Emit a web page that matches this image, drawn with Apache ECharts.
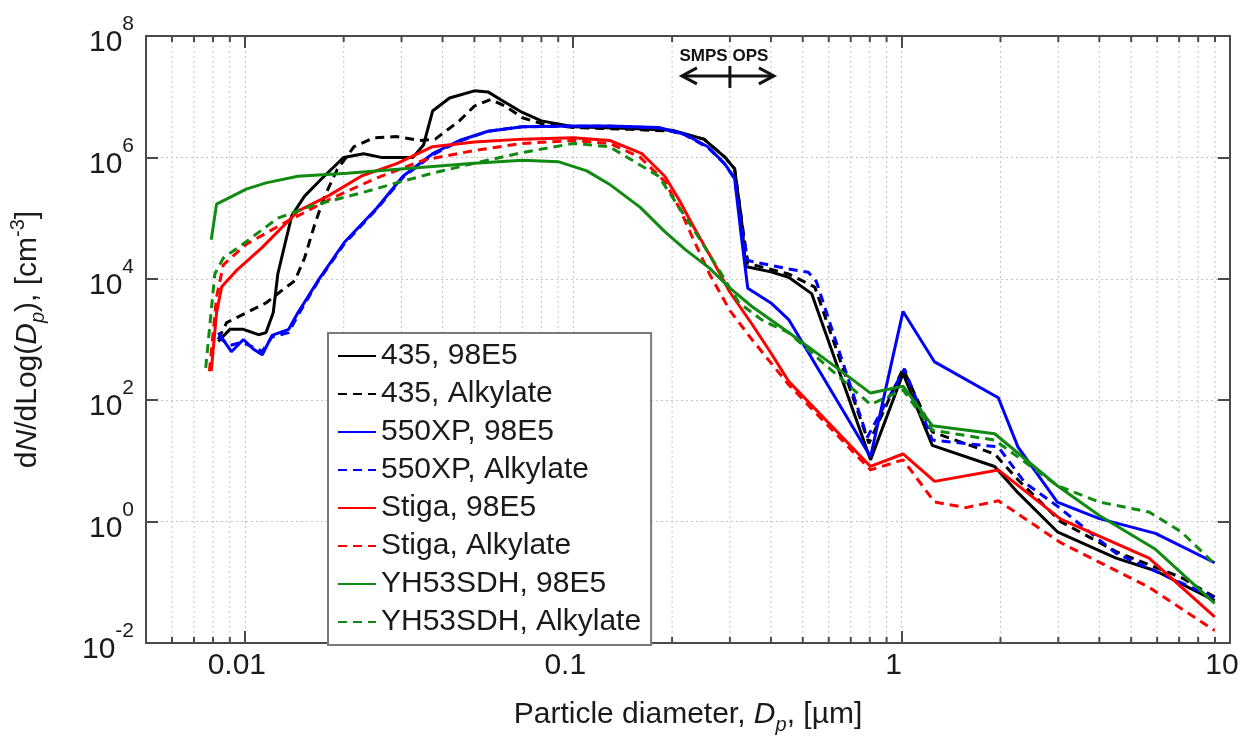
<!DOCTYPE html>
<html>
<head>
<meta charset="utf-8">
<script src="https://cdn.jsdelivr.net/npm/echarts@6/dist/echarts.min.js"></script>
<style>
  html, body { margin: 0; padding: 0; background: #fff; }
  #chart { width: 1245px; height: 740px; }
</style>
</head>
<body>
<div id="chart"></div>
<script>
// series names (legend order)
var seriesNames = ['435, 98E5', '435, Alkylate', '550XP, 98E5', '550XP, Alkylate',
  'Stiga, 98E5', 'Stiga, Alkylate', 'YH53SDH, 98E5', 'YH53SDH, Alkylate'];

// [Dp (um), dN/dLog(Dp) (cm^-3)]
var s435_98E5 = [[0.0083, 930], [0.009, 1470], [0.0099, 1470], [0.011, 1200], [0.0116, 1300], [0.0122, 2750],
  [0.0126, 12000], [0.0133, 41000], [0.0139, 110000], [0.0152, 230000], [0.0171, 440000], [0.02, 1000000],
  [0.023, 1150000], [0.026, 1000000], [0.0325, 1000000], [0.035, 1600000], [0.0373, 5800000], [0.042, 9500000],
  [0.05, 12500000], [0.055, 12000000], [0.06, 9000000], [0.07, 5500000], [0.08, 4000000], [0.1, 3200000],
  [0.15, 3000000], [0.2, 2800000], [0.25, 2000000], [0.29, 1000000], [0.31, 650000], [0.325, 100000],
  [0.335, 16000], [0.4, 13000], [0.453, 10600], [0.532, 5700], [0.804, 10.4], [1.01, 275], [1.24, 18],
  [1.92, 8.1], [2.26, 3.0], [2.98, 0.68], [4.5, 0.25], [5.93, 0.155], [8.98, 0.05]];
var s435_Alk = [[0.0083, 1000], [0.0088, 1900], [0.0101, 2750], [0.0116, 4000], [0.013, 6500], [0.0142, 9300],
  [0.0152, 22000], [0.0163, 77000], [0.0175, 230000], [0.0191, 630000], [0.0215, 1500000], [0.0247, 2100000],
  [0.029, 2200000], [0.0341, 1900000], [0.038, 2000000], [0.045, 4000000], [0.05, 7000000], [0.056, 9000000],
  [0.062, 7000000], [0.07, 4500000], [0.08, 3600000], [0.1, 3100000], [0.15, 2900000], [0.2, 2700000],
  [0.25, 2000000], [0.29, 1000000], [0.31, 650000], [0.325, 100000], [0.34, 18000], [0.453, 12000],
  [0.544, 7300], [0.795, 19.5], [1.01, 330], [1.24, 30], [1.92, 13], [2.26, 4.9], [3.05, 1.0], [4.5, 0.32],
  [7.1, 0.12], [8.98, 0.057]];
var s550_98E5 = [[0.0083, 1300], [0.0091, 630], [0.0099, 1000], [0.0106, 700], [0.0113, 560], [0.0121, 1170],
  [0.0136, 1470], [0.0145, 2750], [0.0167, 9300], [0.0201, 40000], [0.0252, 145000], [0.0303, 490000],
  [0.0373, 1150000], [0.045, 1900000], [0.055, 2700000], [0.07, 3200000], [0.1, 3300000], [0.129, 3300000],
  [0.182, 3100000], [0.219, 2400000], [0.257, 1500000], [0.289, 790000], [0.31, 450000], [0.325, 50000],
  [0.34, 7000], [0.4, 4000], [0.453, 2130], [0.804, 11.7], [1.01, 2900], [1.26, 427], [1.97, 110], [2.26, 17],
  [2.98, 2.1], [4.0, 1.12], [5.93, 0.64], [8.98, 0.21]];
var s550_Alk = [[0.0083, 1100], [0.009, 800], [0.0098, 900], [0.0106, 750], [0.0113, 640], [0.0121, 1100],
  [0.0136, 1300], [0.0145, 2500], [0.0167, 9000], [0.0201, 38000], [0.0252, 140000], [0.0303, 470000],
  [0.0373, 1100000], [0.045, 1850000], [0.055, 2700000], [0.07, 3200000], [0.1, 3250000], [0.129, 3250000],
  [0.182, 3050000], [0.219, 2350000], [0.257, 1450000], [0.289, 780000], [0.31, 450000], [0.325, 80000],
  [0.34, 20000], [0.453, 14500], [0.52, 12800], [0.55, 9000], [0.786, 24.5], [1.02, 330], [1.24, 22],
  [1.97, 17], [2.37, 4.4], [2.98, 1.8], [4.5, 0.3], [8.98, 0.055]];
var sStiga_98E5 = [[0.0079, 300], [0.0082, 2750], [0.0085, 7400], [0.0094, 13500], [0.0113, 33000],
  [0.0145, 130000], [0.0179, 230000], [0.0226, 490000], [0.029, 790000], [0.0373, 1500000], [0.05, 1800000],
  [0.07, 2000000], [0.1, 2100000], [0.129, 1900000], [0.162, 1150000], [0.19, 490000], [0.21, 200000],
  [0.23, 80000], [0.26, 25000], [0.3, 6000], [0.35, 1800], [0.4, 600], [0.453, 204], [0.804, 8.1], [1.01, 13],
  [1.26, 4.6], [1.97, 7.1], [3.05, 1.1], [5.67, 0.25], [8.98, 0.027]];
var sStiga_Alk = [[0.0078, 300], [0.0082, 5000], [0.0086, 17000], [0.0101, 37000], [0.013, 80000],
  [0.018, 200000], [0.025, 450000], [0.035, 900000], [0.05, 1300000], [0.07, 1700000], [0.1, 1900000],
  [0.129, 1700000], [0.16, 1000000], [0.19, 400000], [0.21, 150000], [0.23, 50000], [0.26, 12000],
  [0.3, 3000], [0.35, 1000], [0.453, 180], [0.804, 7.1], [1.01, 10.4], [1.26, 2.1], [1.57, 1.7], [1.97, 2.2],
  [3.05, 0.45], [5.67, 0.083], [8.98, 0.016]];
var sYH_98E5 = [[0.0079, 44000], [0.0082, 170000], [0.0101, 300000], [0.0116, 380000], [0.0145, 490000],
  [0.0205, 550000], [0.0373, 710000], [0.05, 800000], [0.07, 900000], [0.09, 850000], [0.11, 600000],
  [0.13, 350000], [0.16, 150000], [0.19, 60000], [0.22, 30000], [0.26, 15000], [0.3, 7000], [0.35, 3500],
  [0.453, 1300], [0.61, 400], [0.804, 131], [1.01, 170], [1.24, 38], [1.92, 28], [2.98, 3.9], [4.0, 1.26],
  [5.93, 0.35], [8.98, 0.045]];
var sYH_Alk = [[0.0076, 340], [0.0081, 12000], [0.0086, 22000], [0.0101, 41000], [0.0126, 100000],
  [0.016, 160000], [0.0226, 260000], [0.029, 380000], [0.0373, 550000], [0.05, 800000], [0.07, 1200000],
  [0.1, 1700000], [0.129, 1500000], [0.182, 490000], [0.21, 150000], [0.24, 50000], [0.28, 13000],
  [0.32, 4000], [0.38, 2000], [0.453, 1300], [0.804, 85], [1.01, 148], [1.24, 32], [1.92, 22], [2.98, 3.9],
  [4.0, 2.1], [5.67, 1.44], [7.1, 0.68], [8.98, 0.2]];

var seriesData = [s435_98E5, s435_Alk, s550_98E5, s550_Alk, sStiga_98E5, sStiga_Alk, sYH_98E5, sYH_Alk];
var seriesColors = ['#000000', '#000000', '#0000ff', '#0000ff', '#ff0000', '#ff0000', '#118a11', '#118a11'];
var seriesDashed = [false, true, false, true, false, true, false, true];

// axis ranges and minor x ticks
var xMin = 0.005, xMax = 10;
var yMin = 0.01, yMax = 1e8;
var minorTicks = [0.006, 0.007, 0.008, 0.009, 0.02, 0.03, 0.04, 0.05, 0.06, 0.07, 0.08, 0.09,
  0.2, 0.3, 0.4, 0.5, 0.6, 0.7, 0.8, 0.9, 2, 3, 4, 5, 6, 7, 8, 9];

// SMPS / OPS boundary marker
var boundaryDp = 0.3;
var boundaryY = 2.2e7;

var font = '"Liberation Sans", Arial, sans-serif';
var axisColor = '#4a4a4a';
var gridColor = '#c4c4c4';

var dom = document.getElementById('chart');
var myChart = echarts.init(dom, null, { renderer: 'canvas' });

function isDecade(v) {
  var e = Math.log10(v);
  return Math.abs(e - Math.round(e)) < 1e-6;
}

var series = seriesNames.map(function (name, i) {
  return {
    name: name,
    type: 'line',
    data: seriesData[i],
    showSymbol: false,
    symbol: 'none',
    smooth: false,
    z: 3,
    lineStyle: { color: seriesColors[i], width: 3, type: seriesDashed[i] ? [9, 6] : 'solid' },
    itemStyle: { color: seriesColors[i] }
  };
});

// minor vertical grid lines and small ticks on top / bottom
series.push({
  type: 'custom',
  silent: true,
  z: 1,
  data: minorTicks.map(function (v) { return [v, 1]; }),
  encode: { x: 0, y: 1 },
  renderItem: function (params, api) {
    var x = api.value(0);
    var top = api.coord([x, yMax]);
    var bot = api.coord([x, yMin]);
    return {
      type: 'group',
      children: [
        { type: 'line', shape: { x1: top[0], y1: top[1], x2: bot[0], y2: bot[1] },
          style: { stroke: gridColor, lineWidth: 1, lineDash: [2, 3] } },
        { type: 'line', shape: { x1: bot[0], y1: bot[1], x2: bot[0], y2: bot[1] - 6 },
          style: { stroke: axisColor, lineWidth: 2 } },
        { type: 'line', shape: { x1: top[0], y1: top[1], x2: top[0], y2: top[1] + 6 },
          style: { stroke: axisColor, lineWidth: 2 } }
      ]
    };
  }
});

// SMPS | OPS annotation
series.push({
  type: 'custom',
  silent: true,
  z: 5,
  data: [[boundaryDp, boundaryY]],
  encode: { x: 0, y: 1 },
  renderItem: function (params, api) {
    var p = api.coord([api.value(0), api.value(1)]);
    var st = { stroke: '#111', lineWidth: 3, fill: null };
    return {
      type: 'group',
      children: [
        { type: 'line', shape: { x1: p[0] - 47, y1: p[1], x2: p[0] + 43, y2: p[1] }, style: st },
        { type: 'polyline', shape: { points: [[p[0] - 33, p[1] - 8], [p[0] - 48, p[1]], [p[0] - 33, p[1] + 8]] }, style: st },
        { type: 'polyline', shape: { points: [[p[0] + 29, p[1] - 8], [p[0] + 44, p[1]], [p[0] + 29, p[1] + 8]] }, style: st },
        { type: 'line', shape: { x1: p[0], y1: p[1] - 10, x2: p[0], y2: p[1] + 12 }, style: st },
        { type: 'text', x: p[0] - 6, y: p[1] - 20,
          style: { text: 'SMPS OPS', fill: '#111', font: 'bold 17px ' + font, align: 'center', verticalAlign: 'middle' } }
      ]
    };
  }
});

var supRich = {
  b: { fontSize: 30, fontFamily: font, color: '#1a1a1a', lineHeight: 44, verticalAlign: 'bottom' },
  s: { fontSize: 21, fontFamily: font, color: '#1a1a1a', lineHeight: 21, verticalAlign: 'top' }
};

var nameRich = {
  n: { fontSize: 30, fontFamily: font, color: '#1a1a1a', lineHeight: 40 },
  i: { fontSize: 30, fontFamily: font, color: '#1a1a1a', lineHeight: 40, fontStyle: 'italic' },
  sub: { fontSize: 20, fontFamily: font, color: '#1a1a1a', lineHeight: 20, fontStyle: 'italic', verticalAlign: 'bottom' },
  sup: { fontSize: 20, fontFamily: font, color: '#1a1a1a', lineHeight: 20, verticalAlign: 'top' }
};

var option = {
  backgroundColor: '#ffffff',
  animation: false,
  grid: { left: 130, right: 15, top: 36, bottom: 81 },
  legend: {
    data: seriesNames,
    orient: 'vertical',
    left: 328,
    top: 333,
    padding: [8, 10, 8, 9],
    itemWidth: 38,
    itemHeight: 14,
    itemGap: 8,
    itemStyle: { opacity: 0 },
    backgroundColor: '#ffffff',
    borderColor: '#7a7a7a',
    borderWidth: 2,
    borderRadius: 0,
    textStyle: { fontSize: 30, fontFamily: font, color: '#1a1a1a' }
  },
  xAxis: [{
    type: 'log',
    logBase: 10,
    min: xMin,
    max: xMax,
    position: 'bottom',
    name: '{n|Particle diameter, }{i|D}{sub|p}{n|, [\u00b5m]}',
    nameLocation: 'middle',
    nameGap: 52,
    nameTextStyle: { rich: nameRich },
    axisLine: { show: true, onZero: false, lineStyle: { color: axisColor, width: 2 } },
    axisTick: { show: true, inside: true, length: 12, lineStyle: { color: axisColor, width: 2 } },
    axisLabel: {
      fontSize: 30, fontFamily: font, color: '#1a1a1a', margin: 8, padding: [0, 16, 0, 0],
      formatter: function (v) { return isDecade(v) ? String(+v.toPrecision(6)) : ''; }
    },
    splitLine: { show: true, lineStyle: { color: gridColor, type: [2, 3], width: 1 } }
  }, {
    type: 'log',
    logBase: 10,
    min: xMin,
    max: xMax,
    position: 'top',
    axisLine: { show: true, onZero: false, lineStyle: { color: axisColor, width: 2 } },
    axisTick: { show: true, inside: true, length: 12, lineStyle: { color: axisColor, width: 2 } },
    axisLabel: { show: false },
    splitLine: { show: false }
  }],
  yAxis: [{
    type: 'log',
    logBase: 100,
    min: yMin,
    max: yMax,
    position: 'left',
    name: '{n|d}{i|N}{n|/dLog(}{i|D}{sub|p}{n|), [cm}{sup|-3}{n|]}',
    nameLocation: 'middle',
    nameRotate: 90,
    nameGap: 98,
    nameTextStyle: { rich: nameRich },
    axisLine: { show: true, onZero: false, lineStyle: { color: axisColor, width: 2 } },
    axisTick: { show: true, inside: true, length: 12, lineStyle: { color: axisColor, width: 2 } },
    axisLabel: {
      margin: 12,
      formatter: function (v) { return '{b|10}{s|' + Math.round(Math.log10(v)) + '}'; },
      rich: supRich
    },
    splitLine: { show: true, lineStyle: { color: gridColor, type: [2, 3], width: 1 } }
  }, {
    type: 'log',
    logBase: 100,
    min: yMin,
    max: yMax,
    position: 'right',
    axisLine: { show: true, onZero: false, lineStyle: { color: axisColor, width: 2 } },
    axisTick: { show: true, inside: true, length: 12, lineStyle: { color: axisColor, width: 2 } },
    axisLabel: { show: false },
    splitLine: { show: false }
  }],
  series: series
};

myChart.setOption(option);
window.addEventListener('resize', myChart.resize);
</script>
</body>
</html>
